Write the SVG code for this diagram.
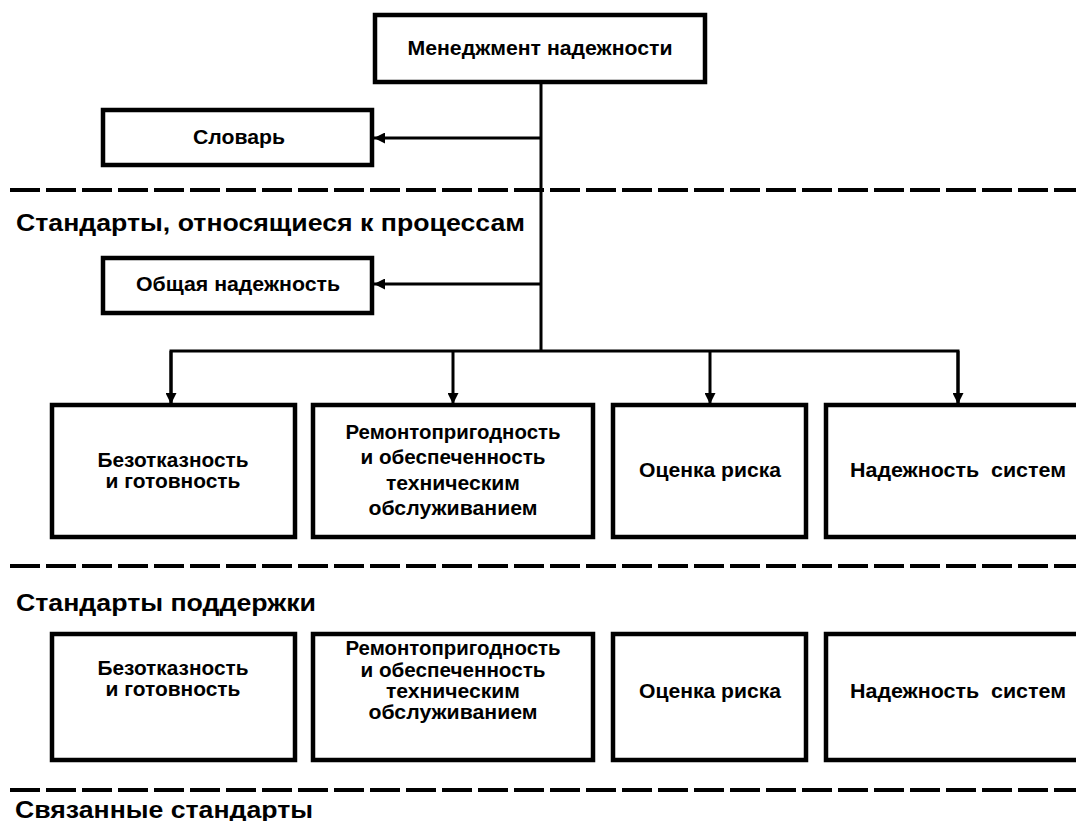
<svg xmlns="http://www.w3.org/2000/svg" width="1076" height="821" viewBox="0 0 1076 821">
<style>
.box{fill:#fff;stroke:#000;stroke-width:4.5}
.t{font-family:"Liberation Sans",Arial,sans-serif;font-weight:bold;font-size:21px;fill:#000;text-anchor:middle}
.h{font-family:"Liberation Sans",Arial,sans-serif;font-weight:bold;font-size:24px;fill:#000}
.dash{stroke:#000;stroke-width:4;stroke-dasharray:30 6;fill:none}
.c{stroke:#000;stroke-width:3;fill:none}
</style>
<defs>
<marker id="ah" viewBox="0 0 10 10" refX="10" refY="5" markerWidth="11" markerHeight="11" markerUnits="userSpaceOnUse" orient="auto">
<path d="M0,0 L10,5 L0,10 z" fill="#000"/>
</marker>
</defs>
<rect width="1076" height="821" fill="#fff"/>

<g id="separators">
<line class="dash" x1="10" y1="190" x2="1076" y2="190"/>
<line class="dash" x1="10" y1="566" x2="1076" y2="566"/>
<line class="dash" x1="10" y1="790" x2="1076" y2="790"/>
</g>

<g id="titles">
<text class="h" x="16" y="231" textLength="509" lengthAdjust="spacingAndGlyphs">Стандарты, относящиеся к процессам</text>
<text class="h" x="16" y="611" textLength="300" lengthAdjust="spacingAndGlyphs">Стандарты поддержки</text>
<text class="h" x="15" y="818" textLength="298" lengthAdjust="spacingAndGlyphs">Связанные стандарты</text>
</g>

<g id="connectors">
<line class="c" x1="541" y1="82" x2="541" y2="351"/>
<line class="c" x1="541" y1="138" x2="374" y2="138" marker-end="url(#ah)"/>
<line class="c" x1="541" y1="284" x2="374" y2="284" marker-end="url(#ah)"/>
<polyline class="c" points="171,405 171,351 958,351 958,405"/>
<line class="c" x1="171" y1="351" x2="171" y2="404" marker-end="url(#ah)"/>
<line class="c" x1="453" y1="351" x2="453" y2="404" marker-end="url(#ah)"/>
<line class="c" x1="710" y1="351" x2="710" y2="404" marker-end="url(#ah)"/>
<line class="c" x1="958" y1="351" x2="958" y2="404" marker-end="url(#ah)"/>
</g>

<g id="mgmt">
<rect class="box" x="375" y="15" width="330" height="67"/>
<text class="t" x="540" y="55" textLength="265" lengthAdjust="spacingAndGlyphs">Менеджмент надежности</text>
</g>
<g id="slovar">
<rect class="box" x="103" y="110" width="269" height="55"/>
<text class="t" x="239" y="144" textLength="92" lengthAdjust="spacingAndGlyphs">Словарь</text>
</g>
<g id="obsh">
<rect class="box" x="103" y="258" width="269" height="55"/>
<text class="t" x="238" y="291" textLength="204" lengthAdjust="spacingAndGlyphs">Общая надежность</text>
</g>

<g id="p-bezotk">
<rect class="box" x="52" y="405" width="243" height="132"/>
<text class="t" x="173" y="467" textLength="151" lengthAdjust="spacingAndGlyphs">Безотказность</text>
<text class="t" x="173" y="488" textLength="135" lengthAdjust="spacingAndGlyphs">и готовность</text>
</g>
<g id="p-remont">
<rect class="box" x="313" y="405" width="280" height="132"/>
<text class="t" x="453" y="439" textLength="215" lengthAdjust="spacingAndGlyphs">Ремонтопригодность</text>
<text class="t" x="453" y="464" textLength="185" lengthAdjust="spacingAndGlyphs">и обеспеченность</text>
<text class="t" x="453" y="490" textLength="134" lengthAdjust="spacingAndGlyphs">техническим</text>
<text class="t" x="453" y="515" textLength="169" lengthAdjust="spacingAndGlyphs">обслуживанием</text>
</g>
<g id="p-risk">
<rect class="box" x="613" y="405" width="193" height="132"/>
<text class="t" x="710" y="477" textLength="142" lengthAdjust="spacingAndGlyphs">Оценка риска</text>
</g>
<g id="p-sys">
<rect class="box" x="826" y="405" width="260" height="132"/>
<text class="t" x="958" y="477" textLength="216" lengthAdjust="spacingAndGlyphs">Надежность&#160; систем</text>
</g>

<g id="s-bezotk">
<rect class="box" x="52" y="634" width="243" height="126"/>
<text class="t" x="173" y="675" textLength="151" lengthAdjust="spacingAndGlyphs">Безотказность</text>
<text class="t" x="173" y="696" textLength="135" lengthAdjust="spacingAndGlyphs">и готовность</text>
</g>
<g id="s-remont">
<rect class="box" x="313" y="634" width="280" height="126"/>
<text class="t" x="453" y="655" textLength="215" lengthAdjust="spacingAndGlyphs">Ремонтопригодность</text>
<text class="t" x="453" y="677" textLength="185" lengthAdjust="spacingAndGlyphs">и обеспеченность</text>
<text class="t" x="453" y="698" textLength="134" lengthAdjust="spacingAndGlyphs">техническим</text>
<text class="t" x="453" y="719" textLength="169" lengthAdjust="spacingAndGlyphs">обслуживанием</text>
</g>
<g id="s-risk">
<rect class="box" x="613" y="634" width="193" height="126"/>
<text class="t" x="710" y="698" textLength="142" lengthAdjust="spacingAndGlyphs">Оценка риска</text>
</g>
<g id="s-sys">
<rect class="box" x="826" y="634" width="260" height="126"/>
<text class="t" x="958" y="698" textLength="216" lengthAdjust="spacingAndGlyphs">Надежность&#160; систем</text>
</g>
</svg>
